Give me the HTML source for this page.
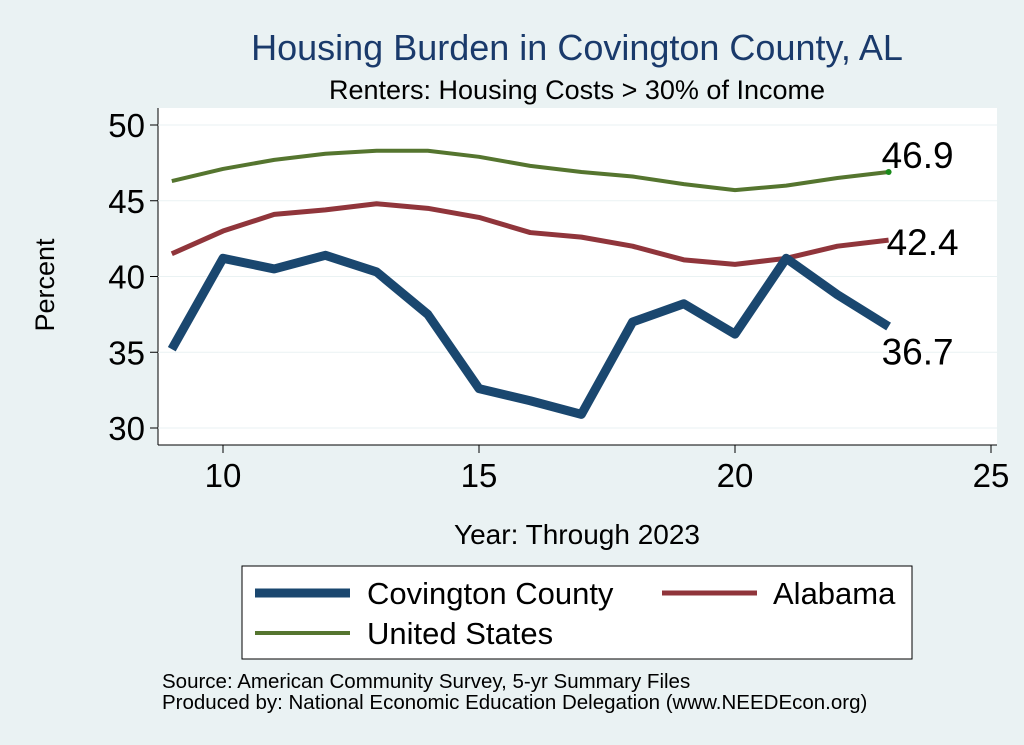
<!DOCTYPE html>
<html><head><meta charset="utf-8"><style>
body{margin:0;background:#eaf2f3;}
svg{display:block;font-family:"Liberation Sans",Arial,sans-serif;}
</style></head><body>
<svg id="c" width="1024" height="745">
<rect x="0" y="0" width="1024" height="745" fill="#eaf2f3"/>
<rect x="158" y="108" width="839" height="337" fill="#fff"/>
<text x="577" y="60" font-size="36" fill="#1a3a6b" text-anchor="middle">Housing Burden in Covington County, AL</text>
<text x="577" y="99" font-size="27" fill="#000" text-anchor="middle">Renters: Housing Costs &gt; 30% of Income</text>
<text x="54" y="285" font-size="27" text-anchor="middle" transform="rotate(-90 54 285)">Percent</text>
<text x="577" y="544" font-size="28" text-anchor="middle">Year: Through 2023</text>
<g id="axes"></g>
<g id="series"></g>
<rect x="242" y="566" width="670" height="93" fill="#fff" stroke="#000" stroke-width="1"/>
<g><line x1="255" y1="593" x2="350" y2="593" stroke="#1a476f" stroke-width="9"/><text x="367" y="604" font-size="31">Covington County</text></g>
<g><line x1="662" y1="593" x2="757" y2="593" stroke="#90353b" stroke-width="5"/><text x="773" y="604" font-size="31">Alabama</text></g>
<g><line x1="255" y1="633" x2="350" y2="633" stroke="#55752f" stroke-width="4"/><text x="367" y="644" font-size="31">United States</text></g>
<text x="162" y="688" font-size="20.5">Source: American Community Survey, 5-yr Summary Files</text>
<text x="162" y="709" font-size="20.5">Produced by: National Economic Education Delegation (www.NEEDEcon.org)</text>
</svg>
<script>
const years=[9,10,11,12,13,14,15,16,17,18,19,20,21,22,23];
const covington=[35.2,41.2,40.5,41.4,40.3,37.5,32.6,31.8,30.9,37.0,38.2,36.2,41.2,38.8,36.7];
const alabama=[41.5,43.0,44.1,44.4,44.8,44.5,43.9,42.9,42.6,42.0,41.1,40.8,41.2,42.0,42.4];
const unitedStates=[46.3,47.1,47.7,48.1,48.3,48.3,47.9,47.3,46.9,46.6,46.1,45.7,46.0,46.5,46.9];
const xTicks=[10,15,20,25];
const yTicks=[30,35,40,45,50];
const NS="http://www.w3.org/2000/svg";
const xs=v=>223+(v-10)*51.2;
const ys=v=>428-(v-30)*15.15;
function mk(tag,attrs,parent){const e=document.createElementNS(NS,tag);for(const k in attrs)e.setAttribute(k,attrs[k]);parent.appendChild(e);return e;}
const ax=document.getElementById('axes');
mk('line',{x1:158,y1:108,x2:158,y2:445,stroke:'#000'},ax);
mk('line',{x1:158,y1:445,x2:997,y2:445,stroke:'#000'},ax);
yTicks.forEach(t=>{
 const g=mk('g',{},ax);
 
 
 mk('line',{x1:158,x2:997,y1:ys(t),y2:ys(t),stroke:'#eaf2f3',"stroke-width":1},g);
 mk('line',{x1:150,x2:158,y1:ys(t),y2:ys(t),stroke:'#000'},g);
 mk('text',{x:145,y:ys(t)+12,"font-size":33,"text-anchor":"end"},g).textContent=t;
});
xTicks.forEach(t=>{
 const g=mk('g',{},ax);
 
 
 mk('line',{x1:xs(t),x2:xs(t),y1:445,y2:453,stroke:'#000'},g);
 mk('text',{x:xs(t),y:487,"font-size":33,"text-anchor":"middle"},g).textContent=t;
});
const se=document.getElementById('series');
function line(data,color,w,name){
 const p=mk('polyline',{points:data.map((v,i)=>xs(years[i])+','+ys(v)).join(' '),fill:'none',stroke:color,"stroke-width":w,"stroke-linejoin":"round"},se);
 
 
 const last=data[data.length-1];
 const t=mk('text',{x:xs(years[years.length-1])-7,y:0,"font-size":37},se);
 
 
 return {t,last};
}
const a=line(alabama,'#90353b',5,'alabama-line');a.t.setAttribute('y',ys(a.last)+15);a.t.setAttribute('x',xs(23)-2);a.t.textContent=a.last.toFixed(1);
const u=line(unitedStates,'#55752f',4,'united-states-line');u.t.setAttribute('y',ys(u.last)-4);u.t.textContent=u.last.toFixed(1);
const dot=mk('circle',{cx:xs(23),cy:ys(unitedStates[unitedStates.length-1]),r:3,fill:'#1a8a1a'},se);


const c=line(covington,'#1a476f',9,'covington-line');c.t.setAttribute('y',ys(c.last)+38);c.t.textContent=c.last.toFixed(1);
</script>
</body></html>
